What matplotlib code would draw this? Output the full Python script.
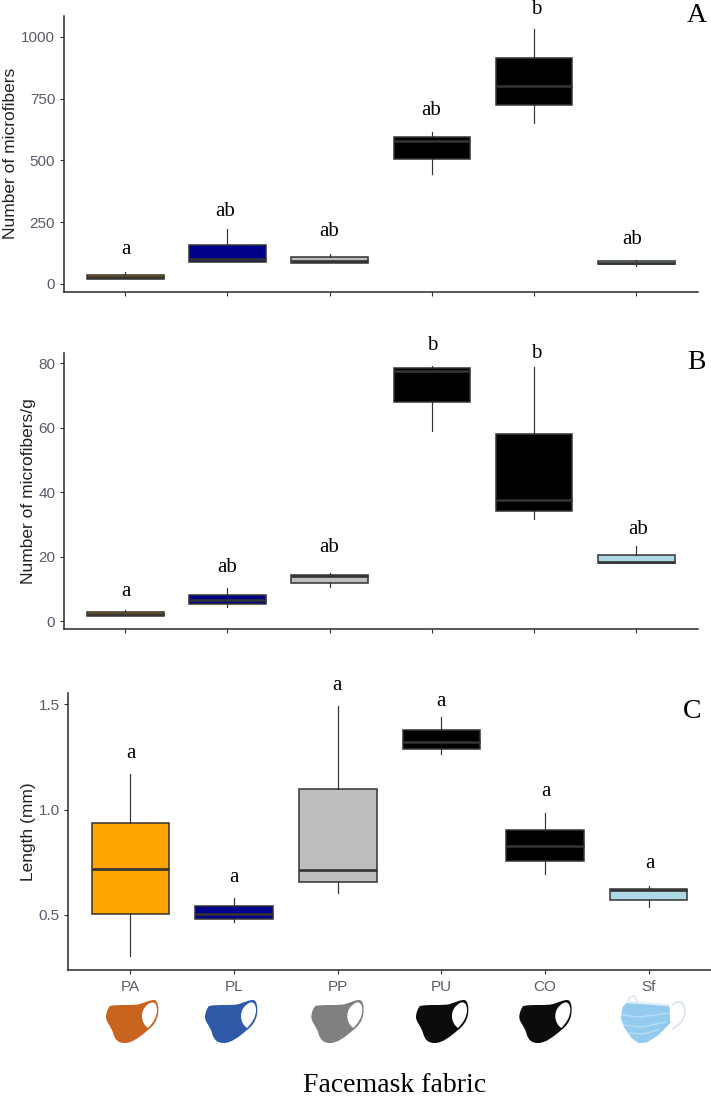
import matplotlib
matplotlib.use("Agg")
import matplotlib.pyplot as plt
from matplotlib.patches import PathPatch, Polygon
from matplotlib.path import Path
from matplotlib.transforms import blended_transform_factory

W, H = 711, 1098

fabrics = ["PA", "PL", "PP", "PU", "CO", "Sf"]
box_colors = ["orange", "#00008B", "#BEBEBE", "black", "black", "#ADD8E6"]

# panel A : number of microfibers
a_high = [48, 220, 120, 614, 1031, 98]
a_q3 = [35, 156, 107, 595, 916, 92]
a_med = [28, 100, 92, 578, 800, 86]
a_q1 = [19, 90, 85, 507, 722, 80]
a_low = [19, 90, 85, 445, 649, 74]
a_letters = ["a", "ab", "ab", "ab", "b", "ab"]

# panel B : number of microfibers/g
b_high = [3.4, 10.1, 15.0, 79.2, 79.0, 23.3]
b_q3 = [2.8, 8.2, 14.4, 78.5, 58.0, 20.6]
b_med = [2.2, 6.5, 13.9, 77.7, 37.5, 18.3]
b_q1 = [1.5, 5.2, 11.7, 68.1, 34.3, 17.9]
b_low = [1.5, 4.3, 10.5, 59.0, 31.6, 17.9]
b_letters = ["a", "ab", "ab", "b", "b", "ab"]

# panel C : length
c_high = [1.168, 0.582, 1.49, 1.44, 0.984, 0.638]
c_q3 = [0.937, 0.541, 1.10, 1.378, 0.903, 0.625]
c_med = [0.717, 0.506, 0.712, 1.32, 0.829, 0.617]
c_q1 = [0.506, 0.479, 0.658, 1.286, 0.756, 0.573]
c_low = [0.305, 0.465, 0.606, 1.263, 0.695, 0.538]
c_letters = ["a", "a", "a", "a", "a", "a"]

mask_colors = ["#C8641E", "#2F5AA8", "#808080", "#0C0C0C", "#0C0C0C"]

SERIF = "Liberation Serif"
SANS = "Liberation Sans"
GREY = "#333333"

fig = plt.figure(figsize=(W / 100, H / 100), dpi=100)


def make_axes(left, right, top, bottom):
    return fig.add_axes([left / W, 1 - bottom / H, (right - left) / W, (bottom - top) / H])


def put_text(x, y, s, size):
    # the letters are placed in pixels of the figure, y going down
    fig.text(x / W, 1 - y / H, s, family=SERIF, fontsize=size, color="black",
             ha="center", va="center")


def draw_panel(ax, high, q3, med, q1, low, ylim, yticks, ylabel, label_x):
    stats = []
    for i in range(len(fabrics)):
        stats.append({"whishi": high[i], "q3": q3[i], "med": med[i], "q1": q1[i], "whislo": low[i]})
    parts = ax.bxp(stats, positions=range(1, 7), widths=0.75, patch_artist=True,
                   showfliers=False, showcaps=False,
                   boxprops={"edgecolor": GREY, "linewidth": 1.1},
                   whiskerprops={"color": GREY, "linewidth": 0.85},
                   medianprops={"color": GREY, "linewidth": 1.9})
    for box, col in zip(parts["boxes"], box_colors):
        box.set_facecolor(col)
    for line in parts["medians"]:
        line.set_solid_capstyle("butt")
    ax.set_xlim(0.4, 6.6)
    ax.set_ylim(*ylim)
    ax.set_yticks(yticks)
    ax.set_xticks(range(1, 7))
    ax.set_xticklabels([])
    ax.spines["top"].set_visible(False)
    ax.spines["right"].set_visible(False)
    ax.spines["left"].set_linewidth(1.1)
    ax.spines["bottom"].set_linewidth(1.1)
    ax.spines["left"].set_color("#2A2A2A")
    ax.spines["bottom"].set_color("#2A2A2A")
    ax.tick_params(length=3.1, width=0.8, color=GREY, labelcolor="#5A5A6A", labelsize=11, pad=3.2)
    for t in ax.get_yticklabels() + ax.get_xticklabels():
        t.set_family(SANS)
    ax.set_ylabel(ylabel, family=SANS, fontsize=12.5, color="#222222")
    # label_x is the right edge of the rotated label
    ax.yaxis.set_label_coords(label_x / W, 0.5,
                              transform=blended_transform_factory(fig.transFigure, ax.transAxes))


ax_a = make_axes(64, 697.5, 16, 291.7)
draw_panel(ax_a, a_high, a_q3, a_med, a_q1, a_low, (-32, 1084), [0, 250, 500, 750, 1000],
           "Number of microfibers", 18)

ax_b = make_axes(64, 697.5, 353.3, 628.7)
draw_panel(ax_b, b_high, b_q3, b_med, b_q1, b_low, (-2.38, 83.1), [0, 20, 40, 60, 80],
           "Number of microfibers/g", 36)

ax_c = make_axes(68.3, 710.8, 693.3, 970)
draw_panel(ax_c, c_high, c_q3, c_med, c_q1, c_low, (0.239, 1.552), [0.5, 1.0, 1.5],
           "Length (mm)", 36)
ax_c.set_xticklabels(fabrics)
for t in ax_c.get_xticklabels():
    t.set_family(SANS)
ax_c.tick_params(axis="x", pad=4)

# significance letters
a_spots = [(125.7, 249), (225.4, 211), (328.8, 232), (431, 110.7), (536, 10), (632, 240)]
b_spots = [(125.7, 592), (227, 568), (329, 547), (432, 346), (536, 353), (638, 530)]
c_spots = [(131, 754), (233.6, 878), (337, 685), (441, 701), (545.5, 792), (649.5, 863)]
for letters, spots in [(a_letters, a_spots), (b_letters, b_spots), (c_letters, c_spots)]:
    for s, (x, y) in zip(letters, spots):
        put_text(x, y, s, 15)

put_text(697, 15, "A", 20)
put_text(696, 362, "B", 20)
put_text(692, 711, "C", 20)
put_text(394.3, 1085, "Facemask fabric", 20)

# masks under the labels, drawn in figure pixels
overlay = fig.add_axes([0, 0, 1, 1], facecolor="none")
overlay.set_xlim(0, W)
overlay.set_ylim(H, 0)
overlay.axis("off")

C4 = Path.CURVE4
mask_verts = [(4, 6), (14, 4), (26, 6), (34, 4), (40, 2), (44, 0), (48, 0), (52, 0), (53, 8), (52, 14),
              (51, 22), (46, 27), (42, 30), (34, 37), (26, 43), (19, 43), (12, 43), (9, 40), (7, 33),
              (5, 26), (0, 22), (0, 17), (0, 13), (2, 8), (4, 6), (4, 6)]
mask_codes = [Path.MOVETO] + [C4] * 24 + [Path.CLOSEPOLY]
hole_verts = [(36, 16), (36, 10), (39, 6), (44, 3), (48, 1), (51, 4), (51, 10),
              (51, 17), (47, 23), (42, 28), (38, 25), (36, 21), (36, 16), (36, 16)]
hole_codes = [Path.MOVETO] + [C4] * 12 + [Path.CLOSEPOLY]

mask_x = [106, 205, 311.3, 416, 519.3]
for x0, col in zip(mask_x, mask_colors):
    y0 = 1000
    body = Path([(x + x0, y + y0) for x, y in mask_verts], mask_codes)
    hole = Path([(x + x0, y + y0) for x, y in hole_verts], hole_codes)
    overlay.add_patch(PathPatch(body, facecolor=col, edgecolor="none"))
    overlay.add_patch(PathPatch(hole, facecolor="white", edgecolor="none"))

# surgical mask
sx, sy = 620, 996
loop = Path([(52, 9), (60, 3), (64, 6), (65, 16), (65, 24), (58, 30), (52, 33)],
            [Path.MOVETO, C4, C4, C4, C4, C4, C4])
overlay.add_patch(PathPatch(Path([(x + sx, y + sy) for x, y in loop.vertices], loop.codes),
                            facecolor="none", edgecolor="#D5E3F5", linewidth=1.2))
small_loop = [(8, 6), (10, 1), (14, 0), (18, 6)]
overlay.plot([x + sx for x, y in small_loop], [y + sy for x, y in small_loop], color="#D5E3F5", lw=1)
body_pts = [(8, 6), (46, 9), (49, 10), (50, 27), (38, 39), (27, 46), (19, 47), (12, 42), (5, 32), (1, 22), (3, 11)]
overlay.add_patch(Polygon([(x + sx, y + sy) for x, y in body_pts], closed=True,
                          facecolor="#93CBEE", edgecolor="#93CBEE", linewidth=0.5, joinstyle="round"))
for pleat in ([(2, 19), (20, 21), (49, 17)], [(4, 29), (22, 31), (46, 26)], [(8, 37), (24, 38), (38, 34)]):
    overlay.plot([x + sx for x, y in pleat], [y + sy for x, y in pleat], color="#B7DDF4", lw=1)
overlay.plot([8 + sx, 48 + sx], [6 + sy, 9 + sy], color="#E4EEF8", lw=1.6)

fig.savefig("out.png", dpi=100)
